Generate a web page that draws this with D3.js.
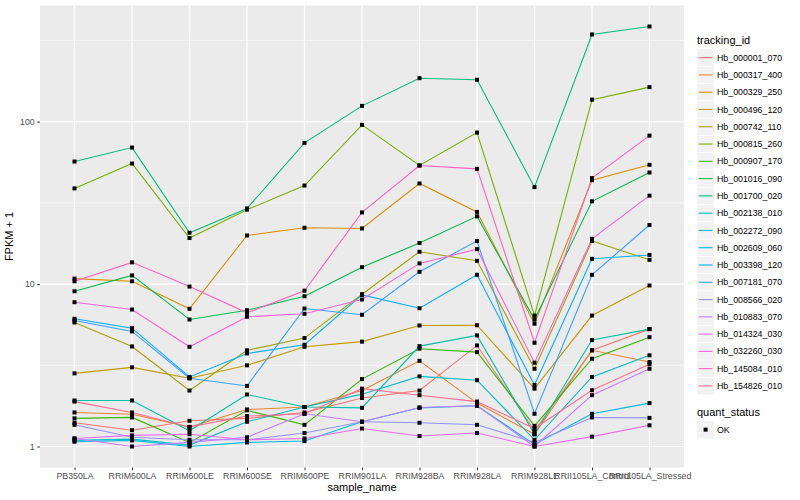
<!DOCTYPE html>
<html>
<head>
<meta charset="utf-8">
<script src="https://cdn.jsdelivr.net/npm/d3@7"></script>
<style>
  body { margin: 0; background: #fff; }
  text { font-family: "Liberation Sans", Arial, sans-serif; }
</style>
</head>
<body>
<svg id="chart" width="800" height="500"></svg>
<script>
// sample names on the x axis
const categories = ["PB350LA", "RRIM600LA", "RRIM600LE", "RRIM600SE", "RRIM600PE", "RRIM901LA",
  "RRIM928BA", "RRIM928LA", "RRIM928LE", "RRII105LA_Control", "RRII105LA_Stressed"];

// FPKM + 1 per transcript
const hb000001_070 = [1.40, 1.26, 1.44, 1.49, 1.62, 1.99, 2.21, 4.19, 1.25, 3.91, 5.28];
const hb000317_400 = [1.62, 1.58, 1.32, 1.69, 1.75, 2.21, 3.37, 1.85, 1.19, 3.91, 3.31];
const hb000329_250 = [10.8, 10.4, 7.04, 19.9, 22.2, 22.0, 41.6, 27.8, 5.7, 43.6, 54.2];
const hb000496_120 = [2.82, 3.07, 2.63, 3.16, 4.11, 4.42, 5.56, 5.58, 2.27, 6.4, 9.8];
const hb000742_110 = [5.80, 4.13, 2.21, 3.91, 4.65, 8.66, 15.8, 13.9, 3.01, 18.4, 14.1];
const hb000815_260 = [38.8, 55.2, 19.2, 28.7, 40.4, 95.5, 53.7, 85.6, 6.4, 136.5, 163];
const hb000907_170 = [1.49, 1.51, 1.06, 1.67, 1.36, 2.60, 4.00, 3.81, 1.34, 3.47, 4.71];
const hb001016_090 = [9.03, 11.3, 6.05, 6.9, 8.41, 12.7, 17.9, 26.1, 6.05, 32.3, 48.6];
const hb001700_020 = [56.8, 69.2, 20.7, 29.2, 74, 125, 185, 181, 39.5, 344, 385];
const hb002138_010 = [1.92, 1.92, 1.25, 2.09, 1.75, 1.73, 4.15, 4.83, 1.19, 4.52, 5.28];
const hb002272_090 = [1.09, 1.11, 1.02, 1.42, 1.75, 2.1, 2.70, 2.56, 1.10, 2.68, 3.64];
const hb002609_060 = [1.07, 1.09, 1.0, 1.06, 1.08, 1.42, 1.73, 1.78, 1.03, 1.59, 1.85];
const hb003398_120 = [6.11, 5.35, 2.68, 3.74, 4.23, 8.57, 7.10, 11.4, 2.39, 14.3, 15.1];
const hb007181_070 = [5.97, 5.11, 2.63, 2.36, 7.07, 6.47, 11.9, 18.4, 1.59, 11.4, 23.1];
const hb008566_020 = [1.36, 1.14, 1.10, 1.10, 1.21, 1.42, 1.40, 1.36, 1.06, 1.51, 1.50];
const hb010883_070 = [1.12, 1.0, 1.06, 1.14, 1.59, 1.42, 1.74, 1.78, 1.0, 2.07, 3.01];
const hb014324_030 = [1.12, 1.17, 1.19, 1.10, 1.12, 1.29, 1.16, 1.21, 1.0, 1.15, 1.35];
const hb032260_030 = [7.73, 6.97, 4.11, 6.29, 6.56, 8.03, 13.4, 16.4, 3.28, 19.0, 35.0];
const hb145084_010 = [10.4, 13.6, 9.65, 6.65, 9.1, 27.6, 53.7, 51.2, 4.35, 44.9, 82.0];
const hb154826_010 = [1.89, 1.62, 1.32, 1.54, 1.59, 2.27, 2.07, 1.89, 1.29, 2.22, 3.21];

const trackingIds = ["Hb_000001_070", "Hb_000317_400", "Hb_000329_250", "Hb_000496_120", "Hb_000742_110",
  "Hb_000815_260", "Hb_000907_170", "Hb_001016_090", "Hb_001700_020", "Hb_002138_010",
  "Hb_002272_090", "Hb_002609_060", "Hb_003398_120", "Hb_007181_070", "Hb_008566_020",
  "Hb_010883_070", "Hb_014324_030", "Hb_032260_030", "Hb_145084_010", "Hb_154826_010"];
const seriesValues = [hb000001_070, hb000317_400, hb000329_250, hb000496_120, hb000742_110,
  hb000815_260, hb000907_170, hb001016_090, hb001700_020, hb002138_010,
  hb002272_090, hb002609_060, hb003398_120, hb007181_070, hb008566_020,
  hb010883_070, hb014324_030, hb032260_030, hb145084_010, hb154826_010];
const colors = ["#F8766D", "#EA8331", "#D89000", "#C09B00", "#A3A500", "#7CAE00", "#39B600", "#00BB4E",
  "#00BF7D", "#00C1A3", "#00BFC4", "#00BAE0", "#00B0F6", "#35A2FF", "#9590FF", "#C77CFF",
  "#E76BF3", "#FA62DB", "#FF62BC", "#FF6C91"];
const yTicks = [1, 10, 100];
const yMinor = [Math.sqrt(10), Math.sqrt(1000), Math.sqrt(100000)];

const series = trackingIds.map((id, i) => ({
  id: id, color: colors[i],
  points: seriesValues[i].map((v, j) => ({ cat: categories[j], v: v }))
}));

const svg = d3.select("#chart");
const panel = { left: 40, top: 5.5, right: 684, bottom: 467.5 };

// x: discrete with ggplot's 0.6 expansion
const x = d3.scalePoint().domain(categories).range([panel.left, panel.right]).padding(0.6);

// y: log10 with 5% expansion on the log range
const all = seriesValues.flat();
const lo = Math.log10(d3.min(all)), hi = Math.log10(d3.max(all));
const pad = (hi - lo) * 0.05;
const y = d3.scaleLog().domain([Math.pow(10, lo - pad), Math.pow(10, hi + pad)])
  .range([panel.bottom, panel.top]);

// panel background and grid
svg.append("rect").attr("x", panel.left).attr("y", panel.top)
  .attr("width", panel.right - panel.left).attr("height", panel.bottom - panel.top)
  .attr("fill", "#EBEBEB");

const grid = svg.append("g");
grid.selectAll(".minor").data(yMinor.filter(d => y(d) >= panel.top)).join("line")
  .attr("x1", panel.left).attr("x2", panel.right)
  .attr("y1", d => y(d)).attr("y2", d => y(d))
  .attr("stroke", "#fff").attr("stroke-width", 0.6);
grid.selectAll(".major").data(yTicks).join("line")
  .attr("x1", panel.left).attr("x2", panel.right)
  .attr("y1", d => y(d)).attr("y2", d => y(d))
  .attr("stroke", "#fff").attr("stroke-width", 1.2);
grid.selectAll(".vmajor").data(categories).join("line")
  .attr("x1", d => x(d)).attr("x2", d => x(d))
  .attr("y1", panel.top).attr("y2", panel.bottom)
  .attr("stroke", "#fff").attr("stroke-width", 1.2);

// lines
const line = d3.line().x(d => x(d.cat)).y(d => y(d.v));
svg.append("g").selectAll("path").data(series).join("path")
  .attr("d", d => line(d.points))
  .attr("fill", "none").attr("stroke", d => d.color).attr("stroke-width", 1.1);

// points
svg.append("g").selectAll("rect").data(series.flatMap(s => s.points)).join("rect")
  .attr("x", d => x(d.cat) - 2).attr("y", d => y(d.v) - 2)
  .attr("width", 4).attr("height", 4).attr("fill", "#000");

// axes
const xAxis = d3.axisBottom(x).tickSize(2.75).tickPadding(2.5);
const gx = svg.append("g").attr("transform", `translate(0,${panel.bottom})`).call(xAxis);
const yAxis = d3.axisLeft(y).tickValues(yTicks).tickFormat(d3.format("d")).tickSize(2.75).tickPadding(2.5);
const gy = svg.append("g").attr("transform", `translate(${panel.left},0)`).call(yAxis);
[gx, gy].forEach(g => {
  g.select(".domain").remove();
  g.selectAll(".tick line").attr("stroke", "#333");
  g.selectAll(".tick text").attr("fill", "#4D4D4D").style("font-size", "8.8px")
    .style("font-family", "'Liberation Sans', Arial, sans-serif");
});

svg.append("text").attr("x", (panel.left + panel.right) / 2).attr("y", 491)
  .attr("text-anchor", "middle").style("font-size", "11px").text("sample_name");
svg.append("text").attr("transform", `translate(13,${(panel.top + panel.bottom) / 2}) rotate(-90)`)
  .attr("text-anchor", "middle").style("font-size", "11px").text("FPKM + 1");

// legend: tracking_id
const lg = svg.append("g").attr("transform", "translate(697,0)");
lg.append("text").attr("x", 0).attr("y", 44).style("font-size", "11px").text("tracking_id");
const items = lg.selectAll(".item").data(series).join("g")
  .attr("transform", (d, i) => `translate(0,${49 + i * 17.28})`);
items.append("rect").attr("width", 17.28).attr("height", 17.28).attr("fill", "#F2F2F2")
  .attr("stroke", "#fff").attr("stroke-width", 0.5);
items.append("line").attr("x1", 1.7).attr("x2", 15.5).attr("y1", 8.64).attr("y2", 8.64)
  .attr("stroke", d => d.color).attr("stroke-width", 1.1);
items.append("text").attr("x", 20).attr("y", 8.64).attr("dy", "0.35em")
  .style("font-size", "8.8px").text(d => d.id);

// legend: quant_status
lg.append("text").attr("x", 0).attr("y", 416).style("font-size", "11px").text("quant_status");
lg.append("rect").attr("x", 0).attr("y", 421).attr("width", 17.28).attr("height", 17.28).attr("fill", "#F2F2F2");
lg.append("rect").attr("x", 6.6).attr("y", 427.6).attr("width", 4).attr("height", 4).attr("fill", "#000");
lg.append("text").attr("x", 20).attr("y", 429.6).attr("dy", "0.35em").style("font-size", "8.8px").text("OK");
</script>
</body>
</html>
